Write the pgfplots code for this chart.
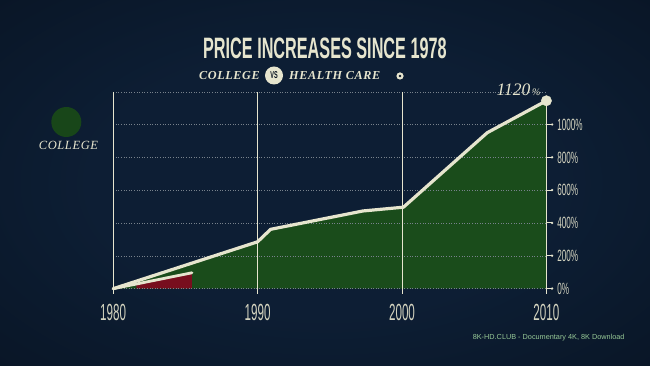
\documentclass[border=0pt]{standalone}
\usepackage{pgfplots}
\pgfplotsset{compat=1.18}
\usepackage{fontspec}
\setmainfont{Liberation Serif}
\newfontfamily\titlefont[FakeStretch=0.55]{Liberation Sans}
\newfontfamily\tickfont[FakeStretch=0.5]{Liberation Sans}
\newfontfamily\subfont[LetterSpace=5]{Liberation Serif}
\newfontfamily\wmfont{Liberation Sans}
\definecolor{cream}{RGB}{230,229,206}
\definecolor{tickc}{RGB}{212,212,192}
\definecolor{collegegreen}{RGB}{26,76,27}
\definecolor{legendgreen}{RGB}{24,70,25}
\definecolor{hcred}{RGB}{120,14,30}
\definecolor{gridc}{RGB}{120,130,140}
\definecolor{bgc}{RGB}{13,30,52}
\definecolor{bgm}{RGB}{8,19,34}
\definecolor{bge}{RGB}{2,6,12}
\definecolor{wmc}{RGB}{150,200,150}
\pgfdeclareradialshading{bgshade}{\pgfpoint{0bp}{0bp}}{color(0bp)=(bgc); color(18bp)=(bgc); color(42bp)=(bgm); color(60bp)=(bge); color(72bp)=(bge)}
\newcommand{\tk}{\tikz[baseline={(0,-5.8pt)}]{\draw[cream, line width=0.9pt] (0,0)--(5pt,0); \fill[cream] (5pt,0) circle (1.3pt);}\hspace{4pt}}
\begin{document}
\begin{tikzpicture}
\shade[shading=bgshade] (0,0) rectangle (650pt,366pt);
% title
\node[anchor=base, inner sep=0, text=cream, font=\titlefont\bfseries\fontsize{29.5}{30}\selectfont] at (324.9pt,307pt) {PRICE INCREASES SINCE 1978};
% subtitle
\node[anchor=base west, inner sep=0, text=cream, font=\subfont\bfseries\itshape\fontsize{12.2}{14}\selectfont] at (199pt,286pt) {COLLEGE};
\fill[cream] (274pt,290.5pt) circle (9pt);
\node[inner sep=0, text=bgm, font=\titlefont\bfseries\fontsize{10}{10}\selectfont] at (274pt,290.5pt) {VS};
\node[anchor=base west, inner sep=0, text=cream, font=\subfont\bfseries\itshape\fontsize{12.2}{14}\selectfont] at (289pt,286pt) {HEALTH CARE};
\fill[cream] (400pt,290pt) circle (3.6pt);
\fill[bgm] (400pt,290pt) circle (1.4pt);
% legend
\fill[legendgreen] (66.3pt,244pt) circle (15pt);
\node[anchor=base west, inner sep=0, text=cream, font=\subfont\itshape\fontsize{12.5}{13}\selectfont] at (38.6pt,216.5pt) {COLLEGE};
% watermark
\node[anchor=base west, inner sep=0, text=wmc, font=\wmfont\fontsize{7.3}{8}\selectfont] at (472.6pt,26pt) {8K-HD.CLUB - Documentary 4K, 8K Download};
\begin{axis}[
  at={(113.2pt,77.3pt)}, anchor=south west,
  scale only axis, width=433.2pt, height=196.8pt,
  xmin=1980, xmax=2010, ymin=0, ymax=1200,
  axis line style={draw=none},
  clip=false,
  major tick length=0pt,
  tick style={draw=none},
  xtick={1980,1990,2000,2010},
  xticklabels={1980,1990,2000,2010},
  xticklabel style={anchor=base, yshift=-32pt, inner sep=0pt, text=tickc, font=\tickfont\fontsize{23.3}{24}\selectfont},
  ytick={0,200,400,600,800,1000},
  yticklabels={\tk 0\%,\tk 200\%,\tk 400\%,\tk 600\%,\tk 800\%,\tk 1000\%},
  yticklabel pos=right,
  yticklabel style={anchor=west, inner sep=0pt, xshift=0pt, text=tickc, font=\tickfont\fontsize{16.3}{17}\selectfont},
]
% college area
\addplot[fill=collegegreen, draw=none] coordinates {(1980,0) (1990,286) (1990.9,362) (1997.3,474) (2000.1,497) (2005.9,951) (2010,1146)} \closedcycle;
% health care area
\addplot[fill=hcred, draw=none] coordinates {(1981.6,28) (1985.45,97)} \closedcycle;
% grid
\draw[gridc, dotted, line width=0.6pt] (axis cs:1980,0) -- (axis cs:2010,0);
\draw[gridc, dotted, line width=0.6pt] (axis cs:1980,200) -- (axis cs:2010,200);
\draw[gridc, dotted, line width=0.6pt] (axis cs:1980,400) -- (axis cs:2010,400);
\draw[gridc, dotted, line width=0.6pt] (axis cs:1980,600) -- (axis cs:2010,600);
\draw[gridc, dotted, line width=0.6pt] (axis cs:1980,800) -- (axis cs:2010,800);
\draw[gridc, dotted, line width=0.6pt] (axis cs:1980,1000) -- (axis cs:2010,1000);
\draw[gridc, dotted, line width=0.6pt] (axis cs:1980,1200) -- (axis cs:2010,1200);
% vertical lines
\draw[cream, line width=0.9pt] (axis cs:1980,-30) -- (axis cs:1980,1200);
\draw[cream, line width=0.9pt] (axis cs:1990,-30) -- (axis cs:1990,1200);
\draw[cream, line width=0.9pt] (axis cs:2000,-30) -- (axis cs:2000,1200);
\draw[cream, line width=1.2pt] (axis cs:2010,-30) -- (axis cs:2010,1146);
% health care line
\addplot[cream, line width=2.8pt, line cap=round] coordinates {(1980,0) (1985.45,97)};
% college line
\addplot[cream, line width=3.2pt, line join=round, line cap=round] coordinates {(1980,0) (1990,286) (1990.9,362) (1997.3,474) (2000.1,497) (2005.9,951) (2010,1146)};
\addplot[only marks, mark=*, mark size=5.2pt, cream, mark options={fill=cream, draw=cream}] coordinates {(2010,1146)};
\node[anchor=base east, inner sep=0, text=cream, font=\itshape] at (axis cs:2009.6,1181) {\fontsize{17.5}{18}\selectfont 1120\fontsize{10}{11}\selectfont\,\%};
\end{axis}
\pgfresetboundingbox
\useasboundingbox (0,0) rectangle (650pt,366pt);
\end{tikzpicture}
\end{document}
